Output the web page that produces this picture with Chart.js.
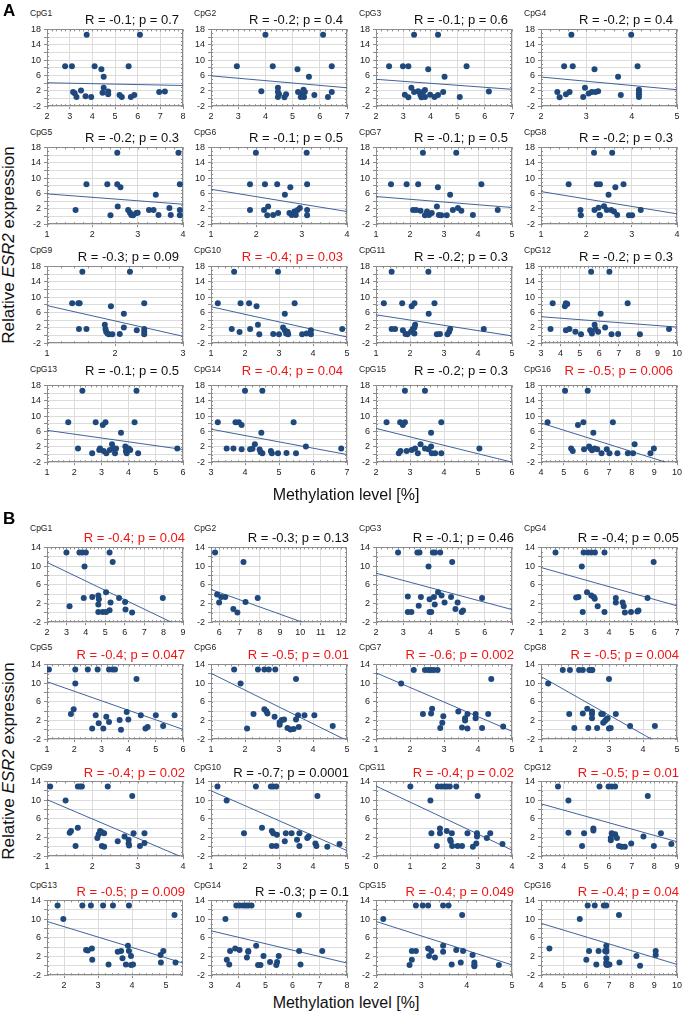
<!DOCTYPE html>
<html>
<head>
<meta charset="utf-8">
<script src="https://cdn.jsdelivr.net/npm/chart.js@4"></script>
<style>
body { margin: 0; background: #fff; }
#fig { position: relative; width: 685px; height: 1022px; overflow: hidden; font-family: "Liberation Sans", Arial, sans-serif; }
.wrap { position: absolute; }
.lbl { position: absolute; white-space: nowrap; }
.cpg { font-size: 8.5px; color: #222; }
.stat { font-size: 13px; color: #111; text-align: right; }
.red { color: #f01414; }
.panel { font-size: 17px; font-weight: bold; }
.xtitle { font-size: 16px; color: #111; }
.ytitle { font-size: 17px; color: #111; transform: rotate(-90deg); transform-origin: center center; }
</style>
</head>
<body>
<div id="fig"></div>
<script>
// ---- panel A : points [methylation %, expression] ----
const A1 = [[2.8,8.4],[3.1,8.4],[3.75,16.6],[3.15,1.7],[3.22,1.4],[3.3,0.4],[3.5,2.1],[3.7,0.6],[3.95,0.4],[4.1,8.4],[4.4,7.6],[4.5,5.7],[4.5,2.8],[4.45,1.5],[4.7,1.8],[4.7,1.1],[5.2,0.9],[5.3,0.4],[5.6,8.4],[5.7,0.4],[5.85,0.9],[6.1,16.6],[6.95,1.7],[7.2,1.8]];
const A2 = [[2.95,8.4],[3.85,1.9],[4.0,16.6],[4.27,8.4],[4.46,2.8],[4.46,1.7],[4.46,0.4],[4.5,1.1],[4.7,0.3],[4.76,1.1],[5.18,7.6],[5.2,1.7],[5.3,0.4],[5.36,1.3],[5.4,2.3],[5.42,0.4],[5.45,1.7],[5.6,5.7],[5.8,0.9],[6.12,16.6],[6.3,0.4],[6.44,8.4],[6.44,1.7]];
const A3 = [[2.48,8.4],[2.99,8.4],[3.19,8.4],[3.06,1.0],[3.19,0.3],[3.3,2.8],[3.4,16.6],[3.4,1.7],[3.55,1.9],[3.63,1.0],[3.67,0.3],[3.73,1.7],[3.8,2.2],[3.8,0.4],[3.92,7.6],[3.99,1.0],[4.15,0.4],[4.28,16.6],[4.28,0.9],[4.47,1.7],[4.52,5.7],[5.08,0.4],[5.33,8.4],[6.15,1.8]];
const A4 = [[2.36,1.7],[2.41,0.3],[2.51,8.4],[2.55,1.1],[2.63,1.7],[2.67,16.6],[2.7,8.4],[2.93,0.4],[2.97,2.8],[3.05,1.3],[3.12,1.7],[3.18,7.6],[3.2,1.7],[3.26,1.9],[3.7,5.7],[3.76,0.9],[3.99,16.6],[4.13,8.4],[4.16,2.3],[4.16,1.7],[4.16,1.1],[4.16,0.4]];
const A5 = [[1.63,1.7],[1.87,8.4],[2.33,8.4],[2.4,0.3],[2.55,16.6],[2.55,8.4],[2.56,2.6],[2.62,7.6],[2.79,1.7],[2.83,1.0],[2.86,0.4],[2.9,0.3],[2.97,0.9],[3.0,1.0],[3.25,1.7],[3.35,1.7],[3.4,5.7],[3.46,0.4],[3.7,2.2],[3.73,0.4],[3.9,16.6],[3.93,8.4],[3.93,1.7],[3.93,0.3]];
const A6 = [[1.86,8.4],[1.86,1.7],[1.99,16.6],[2.17,1.7],[2.19,8.4],[2.26,2.6],[2.24,0.3],[2.37,0.4],[2.46,8.4],[2.48,0.9],[2.63,5.7],[2.73,0.9],[2.75,7.6],[2.78,0.4],[2.84,1.3],[2.87,0.4],[2.91,1.7],[2.96,2.2],[3.11,16.6],[3.12,8.4],[3.12,1.7],[3.12,0.3]];
const A7 = [[1.44,8.4],[1.9,8.4],[2.24,8.4],[2.09,1.7],[2.18,1.7],[2.31,1.5],[2.38,16.6],[2.44,0.3],[2.5,1.3],[2.56,0.4],[2.64,0.9],[2.79,2.6],[2.82,7.6],[2.85,0.4],[2.92,0.3],[3.08,0.3],[3.18,5.7],[3.26,1.7],[3.36,16.6],[3.41,2.2],[3.51,1.5],[3.85,0.4],[4.1,8.4],[4.58,1.7]];
const A8 = [[1.61,8.4],[1.87,1.7],[1.88,0.3],[2.17,16.6],[2.18,1.7],[2.23,8.4],[2.3,8.4],[2.27,2.3],[2.29,0.4],[2.3,0.3],[2.39,2.7],[2.45,1.7],[2.49,5.7],[2.55,1.7],[2.57,16.6],[2.61,1.3],[2.64,7.6],[2.68,0.4],[2.82,8.4],[2.94,0.3],[3.01,0.3],[3.2,1.7]];
const A9 = [[1.37,8.4],[1.46,8.4],[1.48,8.4],[1.52,16.6],[1.47,1.7],[1.58,1.7],[1.85,2.8],[1.86,1.7],[1.87,1.0],[1.89,0.5],[1.91,0.3],[1.94,7.6],[1.96,0.3],[2.07,0.4],[2.13,5.7],[2.13,2.1],[2.22,16.6],[2.32,1.4],[2.43,8.4],[2.43,1.7],[2.43,1.0],[2.43,0.3]];
const A10 = [[1.2,8.4],[1.61,1.7],[1.68,16.6],[1.84,0.9],[1.87,8.4],[2.12,8.4],[2.15,1.7],[2.34,7.6],[2.38,2.8],[2.42,0.3],[2.83,0.4],[2.97,16.6],[3.0,0.3],[3.12,2.1],[3.17,5.7],[3.17,1.4],[3.21,0.5],[3.25,1.0],[3.27,0.3],[3.46,8.4],[3.68,0.3],[3.81,0.5],[3.94,1.4],[3.94,0.3],[4.86,1.7]];
const A11 = [[1.23,8.4],[1.46,16.6],[1.46,1.7],[1.56,1.7],[1.77,8.4],[1.79,1.4],[1.87,0.4],[1.92,0.3],[2.03,1.0],[2.05,7.6],[2.08,1.7],[2.13,8.4],[2.13,2.1],[2.15,2.8],[2.13,0.5],[2.54,16.6],[2.55,5.7],[2.72,8.4],[2.79,0.3],[2.88,0.4],[3.1,0.3],[3.15,1.0],[3.18,1.7],[4.17,1.7]];
const A12 = [[3.49,1.7],[3.6,8.4],[4.23,7.6],[4.28,8.4],[4.35,8.2],[4.28,1.4],[4.46,1.7],[4.77,1.0],[5.06,0.3],[5.53,1.4],[5.58,16.6],[5.62,0.5],[5.76,2.8],[5.8,1.7],[5.94,1.0],[6.07,5.7],[6.3,2.1],[6.52,16.6],[6.63,0.3],[6.97,0.4],[7.46,8.4],[8.09,0.3],[9.59,1.7]];
const A13 = [[1.78,8.4],[2.14,1.6],[2.3,16.6],[2.66,0.3],[2.79,8.4],[2.92,1.2],[2.95,1.6],[3.05,7.7],[3.15,8.4],[3.08,0.9],[3.18,0.3],[3.31,1.2],[3.39,2.7],[3.44,1.6],[3.5,0.3],[3.54,1.6],[3.72,5.7],[3.88,2.1],[3.9,0.9],[3.93,0.3],[4.0,1.6],[4.06,1.2],[4.22,8.4],[4.29,16.6],[4.35,0.3],[5.79,1.6]];
const A14 = [[3.2,8.4],[3.46,1.6],[3.66,1.6],[3.72,8.4],[3.82,8.4],[3.9,7.7],[3.9,1.4],[4.0,16.6],[4.15,1.4],[4.22,1.5],[4.29,2.7],[4.43,1.3],[4.46,0.6],[4.48,5.7],[4.51,16.6],[4.51,0.3],[4.76,0.9],[4.79,0.3],[4.97,0.3],[5.22,0.4],[5.43,8.4],[5.5,0.3],[5.79,2.1],[6.83,1.6]];
const A15 = [[2.31,8.4],[2.67,0.3],[2.72,0.9],[2.71,8.4],[2.79,7.7],[2.85,8.4],[2.85,16.6],[2.9,0.9],[3.05,1.2],[3.15,1.6],[3.23,0.3],[3.31,2.7],[3.44,1.6],[3.44,16.6],[3.54,1.4],[3.62,5.7],[3.62,2.1],[3.64,0.3],[3.74,0.3],[3.92,8.4],[3.92,0.3],[5.04,1.6]];
const A16 = [[4.29,8.4],[5.06,16.6],[5.33,1.6],[5.4,0.9],[5.63,7.7],[5.87,8.4],[5.9,1.4],[6.06,16.6],[6.12,2.1],[6.19,1.6],[6.25,1.1],[6.31,5.7],[6.37,1.6],[6.48,1.4],[6.67,0.3],[6.9,1.4],[7.02,0.3],[7.17,8.4],[7.37,0.3],[7.83,0.3],[8.06,0.3],[8.13,2.7],[8.83,0.3],[8.98,1.6]];

// ---- panel B ----
const B1 = [[3.0,12.9],[3.67,12.9],[3.82,12.9],[4.0,12.9],[3.93,9.9],[3.16,1.4],[3.89,3.2],[4.33,3.4],[4.64,3.7],[4.67,2.9],[4.64,1.8],[4.64,0.2],[4.87,0.2],[5.04,0.2],[5.22,0.55],[5.04,4.4],[5.22,12.9],[5.27,2.2],[5.38,10.9],[5.71,3.2],[6.02,2.3],[6.04,0.7],[6.38,0.1],[7.96,3.2]];
const B2 = [[5.8,12.9],[5.9,3.9],[6.0,2.2],[6.1,3.4],[6.3,3.4],[6.7,0.8],[6.9,0.1],[7.2,10.9],[7.3,2.3],[7.9,3.2]];
const B3 = [[2.81,12.9],[3.52,12.9],[3.6,12.9],[4.09,12.9],[4.17,12.9],[4.36,12.9],[3.93,9.9],[4.8,10.9],[3.17,3.5],[3.57,1.5],[3.65,3.4],[3.17,0.2],[3.3,0.2],[3.97,0.2],[4.03,0.2],[3.97,2.9],[4.16,1.8],[4.13,3.4],[4.28,4.4],[4.41,3.7],[4.52,2.2],[4.76,3.4],[5.0,2.2],[4.92,0.8],[5.2,0.5],[5.15,0.2],[5.9,3.2]];
const B4 = [[1.64,12.9],[2.8,9.9],[2.88,12.9],[3.07,12.9],[3.22,12.9],[3.38,12.9],[3.8,12.9],[2.55,3.3],[2.65,3.4],[2.84,0.2],[3.03,4.4],[3.22,3.7],[3.33,3.4],[3.37,3.0],[3.5,1.4],[3.8,0.2],[4.3,3.2],[4.3,2.2],[4.65,1.4],[4.7,0.1],[4.97,0.2],[4.6,2.2],[5.3,0.5],[5.25,0.3],[5.7,3.2],[5.97,10.9]];
const B5 = [[1.07,12.9],[2.04,12.9],[2.5,12.9],[2.86,12.9],[3.28,12.9],[3.41,12.9],[3.5,12.9],[2.04,9.9],[1.98,4.4],[1.88,3.4],[2.66,0.3],[2.79,3.1],[2.9,1.4],[3.07,0.3],[3.18,2.8],[3.28,1.7],[3.67,2.1],[3.72,0.0],[3.93,3.8],[3.99,2.2],[4.29,10.9],[4.45,3.1],[4.62,0.3],[4.7,0.6],[5.0,3.1],[5.27,0.8],[5.69,3.1]];
const B6 = [[1.68,12.9],[1.87,9.9],[2.38,12.9],[2.57,12.9],[2.7,12.9],[2.89,12.9],[2.06,0.3],[2.25,3.4],[2.57,4.4],[2.63,4.0],[2.66,3.5],[2.87,2.8],[3.02,1.6],[3.02,1.1],[3.08,2.1],[3.15,2.2],[3.25,0.4],[3.34,0.1],[3.43,0.2],[3.5,10.9],[3.5,2.2],[3.56,3.1],[3.58,0.6],[3.75,3.1],[4.04,3.1],[4.58,0.8]];
const B7 = [[1.74,9.9],[2.11,12.8],[2.44,12.8],[2.54,12.8],[2.62,12.8],[2.7,12.8],[2.81,12.8],[2.38,3.4],[2.62,3.5],[2.65,4.5],[2.89,0.4],[2.95,1.5],[2.98,2.9],[3.42,3.9],[3.53,0.5],[3.62,2.0],[3.62,2.5],[3.69,3.4],[3.69,0.3],[3.93,3.4],[3.93,2.5],[4.12,0.4],[4.3,3.4],[4.39,10.9],[4.74,0.7]];
const B8 = [[1.21,9.9],[1.64,12.8],[1.85,12.8],[2.12,12.8],[2.23,12.8],[2.42,12.8],[2.48,12.8],[2.51,12.8],[3.0,10.9],[1.83,3.4],[1.98,0.4],[2.23,3.5],[2.36,4.5],[2.39,0.4],[2.5,3.9],[2.5,3.4],[2.5,2.5],[2.65,0.4],[2.77,3.4],[2.82,3.4],[2.83,1.5],[2.88,1.9],[2.92,2.2],[2.96,2.5],[3.0,0.3],[3.05,0.4],[3.2,3.4],[3.62,0.8],[4.35,0.8]];
const B9 = [[1.07,12.9],[1.41,9.9],[1.68,12.9],[1.73,12.9],[1.77,12.9],[2.34,12.9],[1.5,3.0],[1.53,3.4],[1.63,0.2],[1.68,4.1],[2.11,1.9],[2.14,2.7],[2.17,3.4],[2.21,3.1],[2.21,0.2],[2.26,0.0],[2.26,2.9],[2.56,1.2],[2.71,2.2],[2.8,1.5],[2.8,0.7],[2.81,0.3],[2.88,10.9],[2.91,2.9],[3.05,0.2],[3.15,2.9],[3.15,0.8]];
const B10 = [[1.19,12.9],[1.46,9.9],[2.32,12.9],[2.76,12.9],[2.83,12.9],[2.92,12.9],[1.97,2.9],[2.5,4.1],[2.79,3.4],[2.83,2.9],[2.79,0.2],[2.92,0.2],[2.94,2.6],[3.17,1.2],[3.2,2.9],[3.37,2.9],[3.53,1.5],[3.6,2.9],[3.6,0.2],[3.83,1.9],[3.87,2.2],[4.07,0.7],[4.1,0.2],[4.13,10.9],[4.42,0.0],[4.78,0.6]];
const B11 = [[1.01,12.9],[1.6,9.9],[1.82,12.9],[1.92,12.9],[2.01,12.9],[2.08,12.9],[2.17,12.9],[2.36,12.9],[2.99,10.9],[1.63,2.9],[1.79,0.2],[1.88,2.9],[1.88,3.9],[2.08,3.4],[2.18,1.5],[2.2,1.2],[2.23,2.9],[2.24,0.2],[2.4,0.2],[2.53,0.2],[2.69,2.9],[2.85,0.0],[2.95,0.7],[2.97,2.9],[2.97,2.2],[3.26,1.9],[3.36,2.9],[3.72,0.6]];
const B12 = [[3.75,12.9],[4.21,9.9],[5.58,12.9],[5.98,12.9],[6.12,12.9],[6.27,12.9],[4.21,3.0],[4.81,0.2],[4.9,2.9],[5.31,3.9],[5.31,3.5],[6.08,1.4],[6.08,1.9],[6.12,2.9],[6.27,2.7],[6.35,1.9],[6.44,0.2],[6.56,0.0],[6.7,0.0],[6.98,0.7],[7.52,2.2],[7.71,10.9],[7.98,0.2],[8.29,2.9],[8.75,0.6]];
const B13 = [[1.81,12.9],[1.98,10.0],[2.54,12.9],[2.79,12.9],[3.15,12.9],[3.44,12.9],[3.91,12.9],[2.65,3.4],[2.7,3.3],[2.82,3.7],[2.83,1.3],[3.31,0.3],[3.58,3.0],[3.68,3.2],[3.72,1.6],[3.82,0.3],[3.88,4.3],[3.91,3.2],[3.97,2.1],[3.97,0.2],[4.03,0.3],[4.84,2.3],[4.85,0.7],[4.92,3.2],[5.25,10.9],[5.28,0.7]];
const B14 = [[3.53,10.0],[3.93,12.9],[4.05,12.9],[4.18,12.9],[4.28,12.9],[4.37,12.9],[4.49,12.9],[3.58,1.3],[3.67,0.3],[3.7,3.2],[3.89,3.7],[4.05,3.4],[4.32,1.8],[4.37,3.0],[4.37,3.2],[4.66,4.3],[4.73,0.2],[4.82,0.2],[4.93,2.1],[5.17,0.8],[5.4,0.2],[5.43,0.8],[5.49,2.1],[6.23,10.9],[6.24,3.2],[6.29,0.3],[7.09,3.2]];
const B15 = [[2.16,10.0],[2.88,12.9],[3.03,12.9],[3.15,12.9],[3.48,12.9],[3.6,12.9],[3.9,10.9],[2.74,0.2],[2.79,1.3],[2.79,3.2],[2.88,3.2],[3.15,3.7],[3.17,2.1],[3.22,3.2],[3.3,1.8],[3.48,3.0],[3.48,4.3],[3.67,0.3],[3.77,3.4],[3.87,0.7],[3.92,3.2],[4.13,2.3],[4.17,0.7],[4.17,0.2],[4.17,-0.1],[4.71,0.2]];
const B16 = [[4.37,3.7],[5.71,10.0],[6.06,12.9],[6.37,12.9],[6.77,12.9],[6.88,12.9],[7.44,10.9],[6.0,1.3],[6.12,3.2],[6.44,0.3],[6.54,3.2],[6.83,3.2],[6.88,4.3],[6.88,3.4],[6.88,3.0],[6.88,1.6],[6.88,0.7],[6.88,0.3],[6.92,0.2],[7.02,0.3],[7.46,0.7],[8.21,2.1],[8.37,0.0],[9.06,3.2],[9.06,2.3]];

// regression lines, [x0, y0, x1, y1]
const A_FIT = [[2,4.1,8,3.4],[2,5.9,7,2.8],[2,5.0,7,2.4],[2,5.6,5,2.3],[1,5.9,4,3.2],[1,7.1,4,1.3],[1,5.2,5,2.35],[1,6.5,4,0.7],
               [1,7.8,3,-0.2],[1,7.5,5,-0.4],[1,5.4,5,-0.1],[3,4.9,10,2.2],[1,6.3,6,1.3],[3,6.6,7,0.0],[2,6.8,6,-2.0],[4,8.2,9.5,-2.0]];
const B_FIT = [[2,10.8,8.4,-2.0],[5.6,5.0,10.1,-2.0],[2,8.5,7,0.7],[1,9.7,7,1.5],[1,10.3,6,0.1],[1,12.1,5,-2.3],[1,12.2,5,-0.3],[1,11.4,4.3,-2.2],
               [1,10.1,3.93,-2.0],[1,12.0,5,-0.8],[0,13.0,4,-0.7],[3,9.2,9,1.1],[1.5,9.5,5.5,0.6],[3,7.5,8,0.6],[2,9.5,5,0.2],[4,9.1,10,0.3]];

// x axis ranges
const A_XRANGE = [[2,8],[2,7],[2,7],[2,5],[1,4],[1,4],[1,5],[1,4],[1,3],[1,5],[1,5],[3,10],[1,6],[3,7],[2,6],[4,10]];
const B_XRANGE = [[2,9],[5.6,12.3],[2,7],[1,7],[1,6],[1,5],[1,5],[1,5],[1,4],[1,5],[0,4],[3,9],[1.5,5.5],[3,8],[2,5],[4,10]];

const A_STATS = ["R = -0.1; p = 0.7","R = -0.2; p = 0.4","R = -0.1; p = 0.6","R = -0.2; p = 0.4",
                 "R = -0.2; p = 0.3","R = -0.1; p = 0.5","R = -0.1; p = 0.5","R = -0.2; p = 0.3",
                 "R = -0.3; p = 0.09","R = -0.4; p = 0.03","R = -0.2; p = 0.3","R = -0.2; p = 0.3",
                 "R = -0.1; p = 0.5","R = -0.4; p = 0.04","R = -0.2; p = 0.3","R = -0.5; p = 0.006"];
const B_STATS = ["R = -0.4; p = 0.04","R = -0.3; p = 0.13","R = -0.1; p = 0.46","R = -0.4; p = 0.05",
                 "R = -0.4; p = 0.047","R = -0.5; p = 0.01","R = -0.6; p = 0.002","R = -0.5; p = 0.004",
                 "R = -0.4; p = 0.02","R = -0.7; p = 0.0001","R = -0.4; p = 0.02","R = -0.5; p = 0.01",
                 "R = -0.5; p = 0.009","R = -0.3; p = 0.1","R = -0.4; p = 0.049","R = -0.4; p = 0.04"];
// which CpG numbers are printed in red
const A_RED = [10,14,16];
const B_RED = [1,5,6,7,8,9,11,12,13,15,16];

const A_PTS = [A1,A2,A3,A4,A5,A6,A7,A8,A9,A10,A11,A12,A13,A14,A15,A16];
const B_PTS = [B1,B2,B3,B4,B5,B6,B7,B8,B9,B10,B11,B12,B13,B14,B15,B16];

// ---- layout ----
const FONT = "'Liberation Sans', Arial, sans-serif";
const DOT = '#1f497d';
const FITCOL = '#41639a';
const GRID = '#dcdcdc';
const FRAME = '#8c8c8c';
const COL_LEFT = [47, 211, 376, 541];
const PLOT_W = 136;
const A_TOP = [29, 147, 266, 385];
const B_TOP = [547, 664, 781, 900];
const A_H = 77, B_H = 75;
// title rows: [CpG label centre y, stats centre y]
const A_TITLE_Y = [[12.7,19.3],[132,137.5],[250,256.5],[369,370]];
const B_TITLE_Y = [[528,537],[647,654],[767,772],[885,891]];

const fig = document.getElementById('fig');

function addText(cls, html, x, y, extra){
    const d = document.createElement('div');
    d.className = 'lbl ' + cls;
    d.innerHTML = html;
    d.style.left = x + 'px';
    d.style.top = y + 'px';
    if(extra){ Object.assign(d.style, extra); }
    fig.appendChild(d);
    return d;
}

// frame round the plot area plus small inward minor ticks
const framePlugin = {
    id: 'frame',
    beforeDatasetsDraw(chart){
        const ctx = chart.ctx;
        const a = chart.chartArea;
        const xs = chart.scales.x, ys = chart.scales.y;
        ctx.save();
        ctx.strokeStyle = FRAME;
        ctx.lineWidth = 1;
        ctx.beginPath();
        for(let v = Math.ceil(xs.min * 5) / 5; v <= xs.max + 1e-9; v += 0.2){
            const px = Math.round(xs.getPixelForValue(v)) + 0.5;
            ctx.moveTo(px, a.bottom); ctx.lineTo(px, a.bottom - 2);
            ctx.moveTo(px, a.top); ctx.lineTo(px, a.top + 2);
        }
        for(let v = ys.min; v <= ys.max + 1e-9; v += 1){
            const py = Math.round(ys.getPixelForValue(v)) + 0.5;
            ctx.moveTo(a.left, py); ctx.lineTo(a.left + 2, py);
            ctx.moveTo(a.right, py); ctx.lineTo(a.right - 2, py);
        }
        ctx.stroke();
        ctx.strokeRect(Math.round(a.left) + 0.5, Math.round(a.top) + 0.5, Math.round(a.right - a.left) - 1, Math.round(a.bottom - a.top) - 1);
        ctx.restore();
    }
};

// whole-number ticks only, even when the range starts at a half
function integer_ticks(scale){
    const t = [];
    for(let v = Math.ceil(scale.min - 1e-9); v <= scale.max + 1e-9; v++){
        t.push({value: v});
    }
    scale.ticks = t;
}

function make_config(pts, fit, xr, ymax){
    return {
        type: 'scatter',
        data: {
            datasets: [
                {
                    data: pts.map(p => ({x: p[0], y: p[1]})),
                    pointRadius: 3,
                    pointBackgroundColor: DOT,
                    pointBorderWidth: 0,
                    order: 0
                },
                {
                    data: [{x: fit[0], y: fit[1]}, {x: fit[2], y: fit[3]}],
                    showLine: true,
                    borderColor: FITCOL,
                    borderWidth: 1,
                    pointRadius: 0,
                    order: 1
                }
            ]
        },
        options: {
            responsive: false,
            maintainAspectRatio: false,
            animation: false,
            events: [],
            layout: { padding: { top: 4, right: 8, left: 0, bottom: 0 } },
            plugins: { legend: { display: false }, tooltip: { enabled: false } },
            scales: {
                x: {
                    type: 'linear', min: xr[0], max: xr[1],
                    afterBuildTicks: integer_ticks,
                    border: { display: false },
                    grid: { color: GRID, tickColor: FRAME, tickLength: 3 },
                    ticks: { autoSkip: false, maxRotation: 0,
                             padding: 2, color: '#222', font: { size: 9, family: FONT } }
                },
                y: {
                    type: 'linear', min: -2, max: ymax,
                    border: { display: false },
                    grid: { color: GRID, tickColor: FRAME, tickLength: 3 },
                    ticks: { stepSize: 2, autoSkip: false, padding: 3, color: '#222',
                             font: { size: 9, family: FONT },
                             callback: v => ((v + 2) % 4 === 0 ? String(v) : '') }
                }
            }
        },
        plugins: [framePlugin]
    };
}

// draws one small plot so that its plot area lands on (left, top, PLOT_W, h)
function make_plot(pts, fit, xr, ymax, left, top, h){
    const wrap = document.createElement('div');
    wrap.className = 'wrap';
    const canvas = document.createElement('canvas');
    wrap.appendChild(canvas);
    fig.appendChild(wrap);
    let W = PLOT_W + 40, H = h + 30;
    canvas.width = W; canvas.height = H;
    let chart = new Chart(canvas, make_config(pts, fit, xr, ymax));
    let ca = chart.chartArea;
    const dw = PLOT_W - (ca.right - ca.left);
    const dh = h - (ca.bottom - ca.top);
    if(dw !== 0 || dh !== 0){
        chart.destroy();
        W += dw; H += dh;
        canvas.width = W; canvas.height = H;
        canvas.style.width = W + 'px'; canvas.style.height = H + 'px';
        chart = new Chart(canvas, make_config(pts, fit, xr, ymax));
        ca = chart.chartArea;
    }
    wrap.style.left = (left - ca.left) + 'px';
    wrap.style.top = (top - ca.top) + 'px';
    return chart;
}

function make_panel(pts_list, fits, xranges, stats, reds, tops, h, ymax, titleY, statShift){
    for(let i = 0; i < 16; i++){
        const row = Math.floor(i / 4), col = i % 4;
        const left = COL_LEFT[col], top = tops[row];
        make_plot(pts_list[i], fits[i], xranges[i], ymax, left, top, h);
        addText('cpg', 'CpG' + (i + 1), left - 17, titleY[row][0] - 5);
        const s = addText('stat' + (reds.includes(i + 1) ? ' red' : ''), stats[i], 0, titleY[row][1] - 7.5);
        s.style.left = '';
        s.style.right = (685 - (left + PLOT_W + statShift)) + 'px';
    }
}

make_panel(A_PTS, A_FIT, A_XRANGE, A_STATS, A_RED, A_TOP, A_H, 18, A_TITLE_Y, -4);
make_panel(B_PTS, B_FIT, B_XRANGE, B_STATS, B_RED, B_TOP, B_H, 14, B_TITLE_Y, 2);

// panel letters and axis titles
addText('panel', 'A', 3, 1);
addText('panel', 'B', 3, 509);
const xa = addText('xtitle', 'Methylation level [%]', 346, 486);
xa.style.transform = 'translateX(-50%)';
const xb = addText('xtitle', 'Methylation level [%]', 346, 994);
xb.style.transform = 'translateX(-50%)';
for(const cy of [245, 761]){
    const d = addText('ytitle', 'Relative <i>ESR2</i> expression', 0, 0);
    const w = d.offsetWidth, hh = d.offsetHeight;
    d.style.left = (9 - w / 2) + 'px';
    d.style.top = (cy - hh / 2) + 'px';
}
</script>
</body>
</html>
